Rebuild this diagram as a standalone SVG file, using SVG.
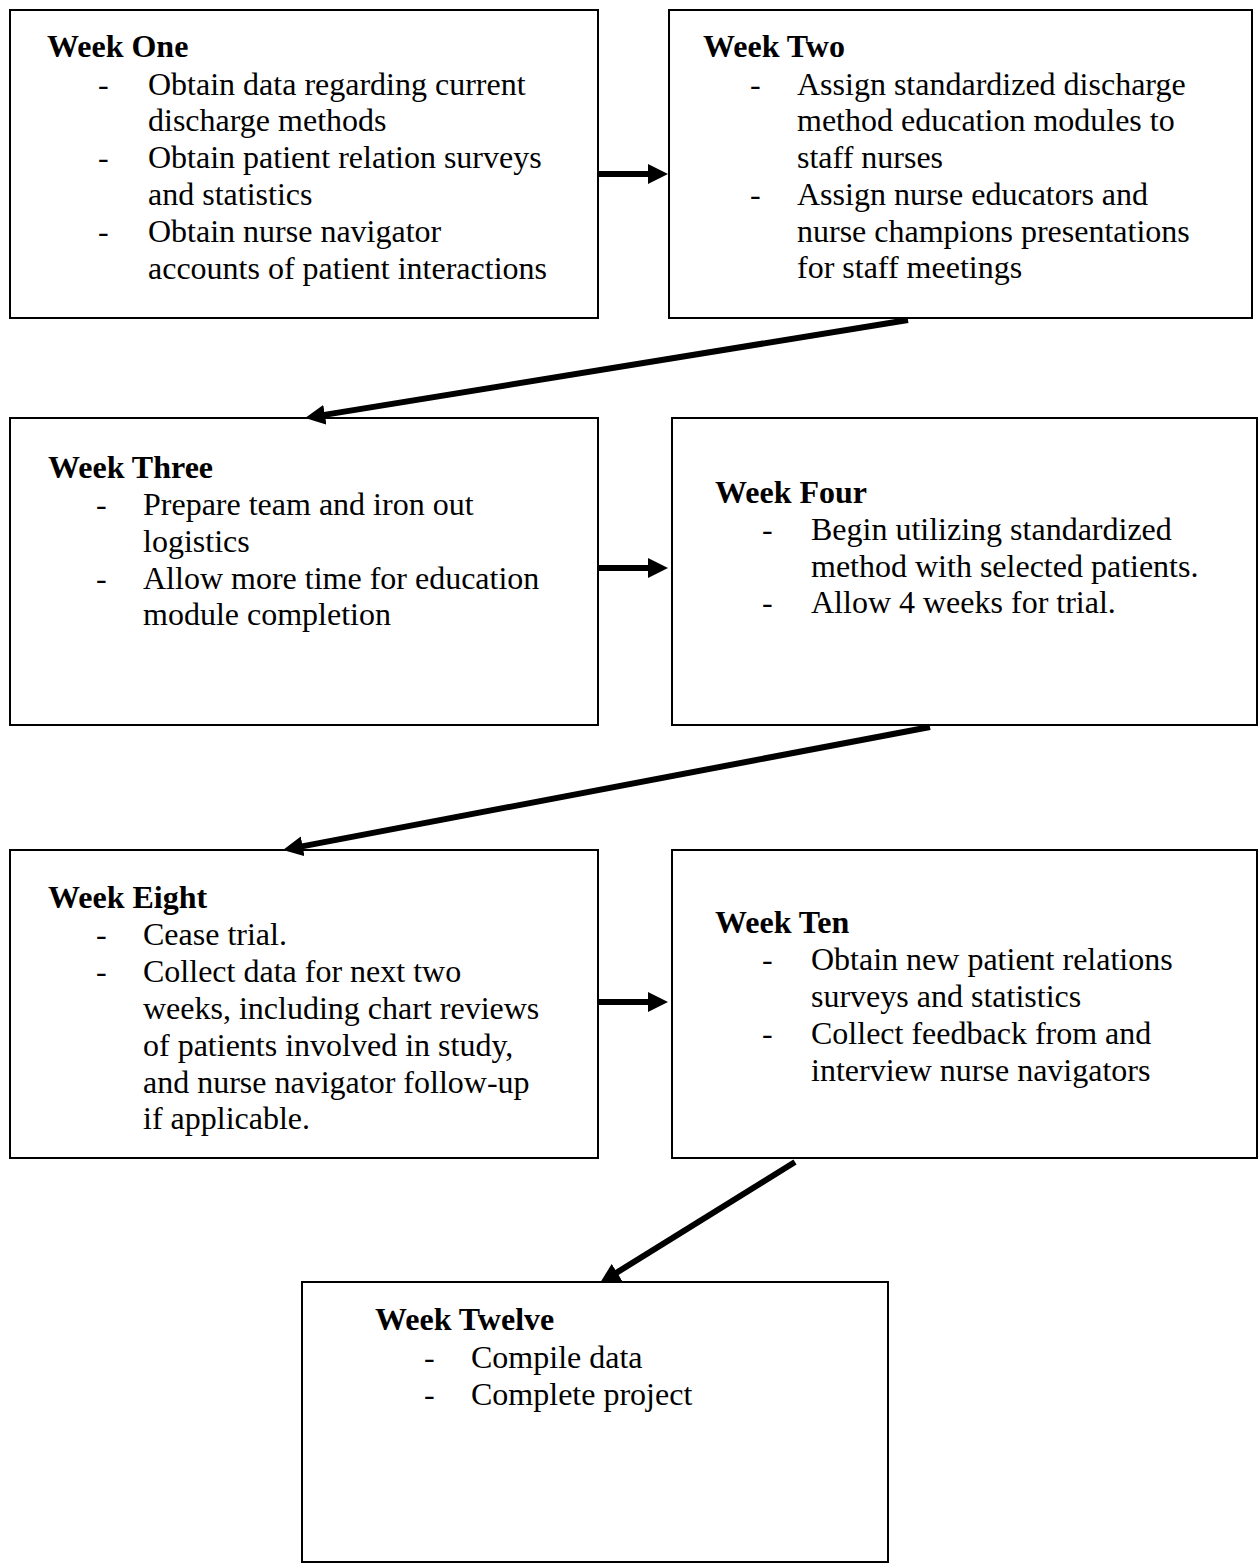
<svg xmlns="http://www.w3.org/2000/svg" width="1259" height="1566" viewBox="0 0 1259 1566">
<style>
.box{fill:#fff;stroke:#000;stroke-width:2}
text{font-family:"Liberation Serif","Times New Roman",serif;font-size:32px;fill:#000}
.t{font-weight:bold}
.c{stroke:#000;stroke-width:6;fill:none;marker-end:url(#ah)}
</style>
<defs>
<marker id="ah" viewBox="0 0 20 20" refX="10" refY="10" markerWidth="20" markerHeight="20" markerUnits="userSpaceOnUse" orient="auto">
<path d="M0,0 L20,10 L0,20 z" fill="#000"/>
</marker>
</defs>
<g id="week-one">
<rect class="box" x="10" y="10" width="588" height="308"/>
<text class="t" x="47" y="57">Week One</text>
<text x="98" y="95">-</text><text x="148" y="95">Obtain data regarding current</text>
<text x="148" y="131">discharge methods</text>
<text x="98" y="168">-</text><text x="148" y="168">Obtain patient relation surveys</text>
<text x="148" y="205">and statistics</text>
<text x="98" y="242">-</text><text x="148" y="242">Obtain nurse navigator</text>
<text x="148" y="279">accounts of patient interactions</text>
</g>
<g id="week-two">
<rect class="box" x="669" y="10" width="583" height="308"/>
<text class="t" x="703" y="57">Week Two</text>
<text x="750" y="95">-</text><text x="797" y="95">Assign standardized discharge</text>
<text x="797" y="131">method education modules to</text>
<text x="797" y="168">staff nurses</text>
<text x="750" y="205">-</text><text x="797" y="205">Assign nurse educators and</text>
<text x="797" y="242">nurse champions presentations</text>
<text x="797" y="278">for staff meetings</text>
</g>
<g id="week-three">
<rect class="box" x="10" y="418" width="588" height="307"/>
<text class="t" x="48" y="478">Week Three</text>
<text x="96" y="515">-</text><text x="143" y="515">Prepare team and iron out</text>
<text x="143" y="552">logistics</text>
<text x="96" y="589">-</text><text x="143" y="589">Allow more time for education</text>
<text x="143" y="625">module completion</text>
</g>
<g id="week-four">
<rect class="box" x="672" y="418" width="585" height="307"/>
<text class="t" x="715" y="503">Week Four</text>
<text x="762" y="540">-</text><text x="811" y="540">Begin utilizing standardized</text>
<text x="811" y="577">method with selected patients.</text>
<text x="762" y="613">-</text><text x="811" y="613">Allow 4 weeks for trial.</text>
</g>
<g id="week-eight">
<rect class="box" x="10" y="850" width="588" height="308"/>
<text class="t" x="48" y="908">Week Eight</text>
<text x="96" y="945">-</text><text x="143" y="945">Cease trial.</text>
<text x="96" y="982">-</text><text x="143" y="982">Collect data for next two</text>
<text x="143" y="1019">weeks, including chart reviews</text>
<text x="143" y="1056">of patients involved in study,</text>
<text x="143" y="1093">and nurse navigator follow-up</text>
<text x="143" y="1129">if applicable.</text>
</g>
<g id="week-ten">
<rect class="box" x="672" y="850" width="585" height="308"/>
<text class="t" x="715" y="933">Week Ten</text>
<text x="762" y="970">-</text><text x="811" y="970">Obtain new patient relations</text>
<text x="811" y="1007">surveys and statistics</text>
<text x="762" y="1044">-</text><text x="811" y="1044">Collect feedback from and</text>
<text x="811" y="1081">interview nurse navigators</text>
</g>
<g id="week-twelve">
<rect class="box" x="302" y="1282" width="586" height="280"/>
<text class="t" x="375" y="1330">Week Twelve</text>
<text x="424" y="1368">-</text><text x="471" y="1368">Compile data</text>
<text x="424" y="1405">-</text><text x="471" y="1405">Complete project</text>
</g>
<g id="connectors">
<line class="c" x1="599" y1="174" x2="658" y2="174"/>
<line class="c" x1="908" y1="320" x2="315" y2="416.4"/>
<line class="c" x1="599" y1="568" x2="658" y2="568"/>
<line class="c" x1="930" y1="727" x2="292.8" y2="848.1"/>
<line class="c" x1="599" y1="1002" x2="658" y2="1002"/>
<line class="c" x1="795" y1="1162" x2="608.5" y2="1277.7"/>
</g>
</svg>
